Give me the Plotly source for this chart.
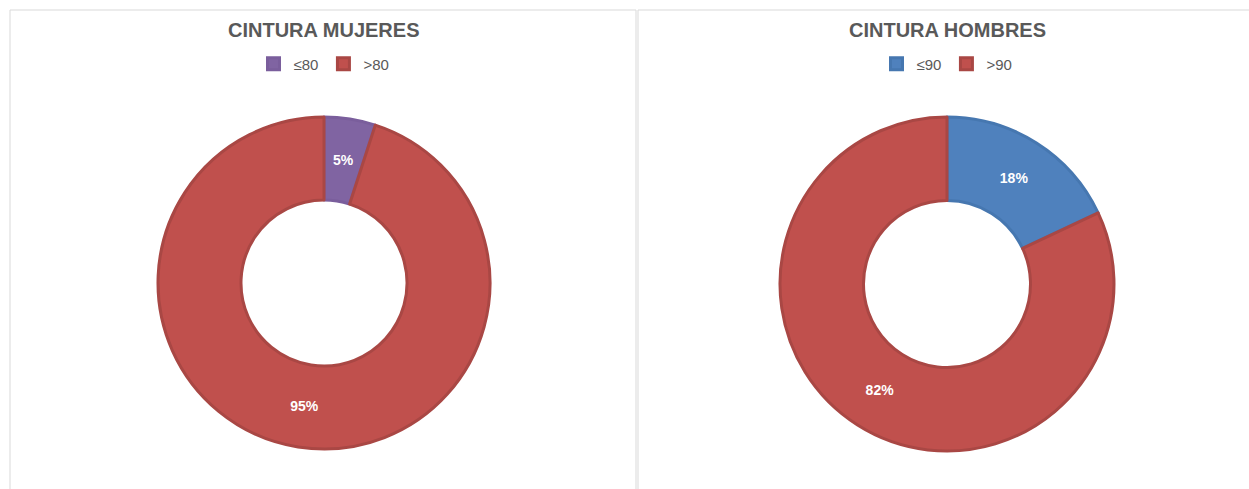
import math
import plotly.graph_objects as go

W, H = 1249, 489

# Data
titles = ["CINTURA MUJERES", "CINTURA HOMBRES"]
labels_mujeres = ["≤80", ">80"]
values_mujeres = [5, 95]
labels_hombres = ["≤90", ">90"]
values_hombres = [18, 82]

colors_mujeres = ["#8064A2", "#C0504D"]
lines_mujeres = ["#7A5E9C", "#A94744"]
colors_hombres = ["#4F81BD", "#C0504D"]
lines_hombres = ["#4677B0", "#A94744"]

FONT = "Liberation Sans, Arial, sans-serif"

def px_x(v):
    return v / W

def px_y(v):
    return 1 - v / H

# donut geometry in pixels: (cx, cy, r)
geo_m = (324, 283, 166)
geo_h = (947, 284, 167)
HOLE = 0.5

def domain(g):
    cx, cy, r = g
    return dict(x=[px_x(cx - r), px_x(cx + r)], y=[px_y(cy + r), px_y(cy - r)])

fig = go.Figure()

def add_donut(labels, values, colors, lines, g, legend):
    total = sum(values)
    # narrow slices get their label placed by an annotation at the ring middle
    small = [v / total < 0.1 for v in values]
    tmpl = ["" if s else "%{percent:.0%}" for s in small]
    fig.add_trace(go.Pie(
        labels=labels, values=values, hole=HOLE, sort=False,
        direction="clockwise", rotation=0,
        marker=dict(colors=colors, line=dict(color=lines, width=3)),
        texttemplate=tmpl, textposition="inside",
        insidetextorientation="horizontal",
        textfont=dict(family=FONT, size=14, color="white", weight="bold"),
        domain=domain(g), legend=legend, hoverinfo="label+percent",
    ))
    cx, cy, r = g
    cum = 0
    anns = []
    for v, s in zip(values, small):
        mid = (cum + v / 2) / total * 2 * math.pi
        cum += v
        if not s:
            continue
        rm = r * (1 + HOLE) / 2
        x = cx + rm * math.sin(mid)
        y = cy - rm * math.cos(mid)
        anns.append(dict(text="<b>%d%%</b>" % round(v / total * 100), x=px_x(x), y=px_y(y),
                         xref="paper", yref="paper", showarrow=False,
                         xanchor="center", yanchor="middle",
                         font=dict(family=FONT, size=14, color="white")))
    return anns

anns = []
anns += add_donut(labels_mujeres, values_mujeres, colors_mujeres, lines_mujeres, geo_m, "legend")
anns += add_donut(labels_hombres, values_hombres, colors_hombres, lines_hombres, geo_h, "legend2")

legend_common = dict(
    orientation="h", xanchor="center", yanchor="middle",
    font=dict(family=FONT, size=15, color="#595959"),
    bgcolor="rgba(0,0,0,0)", itemwidth=30, traceorder="normal",
    itemclick=False, itemdoubleclick=False,
)

shapes = []
# chart frames (spreadsheet chart borders)
shapes.append(dict(type="rect", xref="paper", yref="paper",
                   x0=px_x(10), x1=px_x(636), y0=px_y(495), y1=px_y(10),
                   line=dict(color="#D9D9D9", width=1), layer="below"))
shapes.append(dict(type="rect", xref="paper", yref="paper",
                   x0=px_x(638), x1=px_x(1260), y0=px_y(495), y1=px_y(10),
                   line=dict(color="#D9D9D9", width=1), layer="below"))

for i, t in enumerate(titles):
    cx = [geo_m, geo_h][i][0]
    anns.append(dict(text="<b>" + t + "</b>", x=px_x(cx), y=px_y(30), xref="paper", yref="paper",
                     showarrow=False, xanchor="center", yanchor="middle",
                     font=dict(family=FONT, size=20, color="#595959")))

fig.update_layout(
    width=W, height=H,
    margin=dict(l=0, r=0, t=0, b=0),
    paper_bgcolor="white", plot_bgcolor="white",
    legend=dict(x=px_x(geo_m[0]), y=px_y(64), **legend_common),
    legend2=dict(x=px_x(geo_h[0]), y=px_y(64), **legend_common),
    shapes=shapes,
    annotations=anns,
)

fig.write_html("out.html")
